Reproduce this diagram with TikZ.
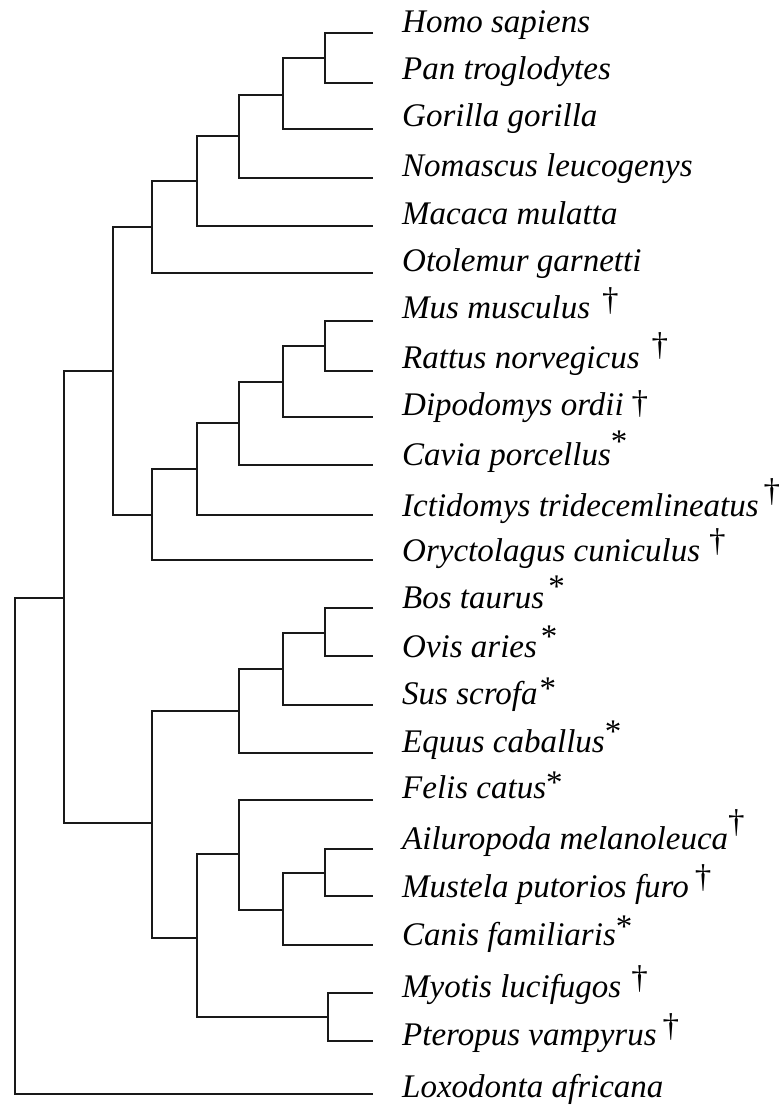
\documentclass[tikz,border=0pt]{standalone}
\usepackage{fontspec}
\setmainfont{Liberation Serif}
\newcommand\mydg[2]{\kern#2pt\raisebox{#1pt}{\fontsize{33}{33}\selectfont\upshape †}}
\newcommand\myast[2]{\kern#2pt\raisebox{#1pt}{\fontsize{33}{33}\selectfont\upshape *}}
\begin{document}
\begin{tikzpicture}[x=1pt,y=-1pt,
  br/.style={line width=1.3pt, line join=miter, draw=black!90},
  lab/.style={anchor=base west, inner sep=0pt, font=\fontsize{33}{40}\selectfont\itshape}]
\useasboundingbox (0,0) rectangle (781,1106);
% tips
\coordinate (t1) at (373,33);
\coordinate (t2) at (373,83);
\coordinate (t3) at (373,129);
\coordinate (t4) at (373,178);
\coordinate (t5) at (373,226);
\coordinate (t6) at (373,273);
\coordinate (t7) at (373,321);
\coordinate (t8) at (373,371);
\coordinate (t9) at (373,417);
\coordinate (t10) at (373,465);
\coordinate (t11) at (373,515);
\coordinate (t12) at (373,560);
\coordinate (t13) at (373,608);
\coordinate (t14) at (373,656);
\coordinate (t15) at (373,705);
\coordinate (t16) at (373,753);
\coordinate (t17) at (373,800);
\coordinate (t18) at (373,849);
\coordinate (t19) at (373,896);
\coordinate (t20) at (373,945);
\coordinate (t21) at (373,993);
\coordinate (t22) at (373,1041);
\coordinate (t23) at (373,1094);
% labels
\node[lab] (L1) at (402,32) {Homo sapiens};
\node[lab] (L2) at (402,79) {Pan troglodytes};
\node[lab] (L3) at (402,126) {Gorilla gorilla};
\node[lab] (L4) at (402,176) {Nomascus leucogenys};
\node[lab] (L5) at (402,224) {Macaca mulatta};
\node[lab] (L6) at (402,271) {Otolemur garnetti};
\node[lab] (L7) at (402,318) {Mus musculus\mydg{8}{12}};
\node[lab] (L8) at (402,368) {Rattus norvegicus\mydg{13}{12}};
\node[lab] (L9) at (402,415) {Dipodomys ordii\mydg{2}{8}};
\node[lab] (L10) at (402,465) {Cavia porcellus\myast{13}{0}};
\node[lab] (L11) at (402,516) {Ictidomys tridecemlineatus\mydg{15}{5}};
\node[lab] (L12) at (402,561) {Oryctolagus cuniculus\mydg{10}{9}};
\node[lab] (L13) at (402,608) {Bos taurus\myast{11}{4}};
\node[lab] (L14) at (402,657) {Ovis aries\myast{10}{4}};
\node[lab] (L15) at (402,704) {Sus scrofa\myast{5}{2}};
\node[lab] (L16) at (402,752) {Equus caballus\myast{10}{0}};
\node[lab] (L17) at (402,798) {Felis catus\myast{5}{0}};
\node[lab] (L18) at (402,849) {Ailuropoda melanoleuca\mydg{17}{0}};
\node[lab] (L19) at (402,897) {Mustela putorios furo\mydg{10}{6}};
\node[lab] (L20) at (402,945) {Canis familiaris\myast{8}{0}};
\node[lab] (L21) at (402,997) {Myotis lucifugos\mydg{9}{10}};
\node[lab] (L22) at (402,1045) {Pteropus vampyrus\mydg{9}{6}};
\node[lab] (L23) at (402,1097) {Loxodonta africana};
% internal nodes
\coordinate (a1) at (325,58);
\coordinate (a2) at (283,95);
\coordinate (a3) at (239,136);
\coordinate (a4) at (197,181);
\coordinate (a5) at (152,227);
\coordinate (b1) at (325,346);
\coordinate (b2) at (283,382);
\coordinate (b3) at (239,423);
\coordinate (b4) at (197,469);
\coordinate (b5) at (152,515);
\coordinate (e) at (113,371);
\coordinate (c1) at (325,633);
\coordinate (c2) at (283,669);
\coordinate (c3) at (239,711);
\coordinate (d1) at (325,873);
\coordinate (d2) at (283,910);
\coordinate (d3) at (239,854);
\coordinate (d4) at (328,1017);
\coordinate (d5) at (197,938);
\coordinate (l) at (152,823);
\coordinate (bo) at (64,598);
\coordinate (root) at (15,846);
% branches
\draw[br] (t1) -| (a1) |- (t2);
\draw[br] (a1) -| (a2) |- (t3);
\draw[br] (a2) -| (a3) |- (t4);
\draw[br] (a3) -| (a4) |- (t5);
\draw[br] (a4) -| (a5) |- (t6);
\draw[br] (t7) -| (b1) |- (t8);
\draw[br] (b1) -| (b2) |- (t9);
\draw[br] (b2) -| (b3) |- (t10);
\draw[br] (b3) -| (b4) |- (t11);
\draw[br] (b4) -| (b5) |- (t12);
\draw[br] (a5) -| (e) |- (b5);
\draw[br] (t13) -| (c1) |- (t14);
\draw[br] (c1) -| (c2) |- (t15);
\draw[br] (c2) -| (c3) |- (t16);
\draw[br] (t18) -| (d1) |- (t19);
\draw[br] (d1) -| (d2) |- (t20);
\draw[br] (t17) -| (d3) |- (d2);
\draw[br] (t21) -| (d4) |- (t22);
\draw[br] (d3) -| (d5) |- (d4);
\draw[br] (c3) -| (l) |- (d5);
\draw[br] (e) -| (bo) |- (l);
\draw[br] (bo) -| (root) |- (t23);
\end{tikzpicture}
\end{document}
